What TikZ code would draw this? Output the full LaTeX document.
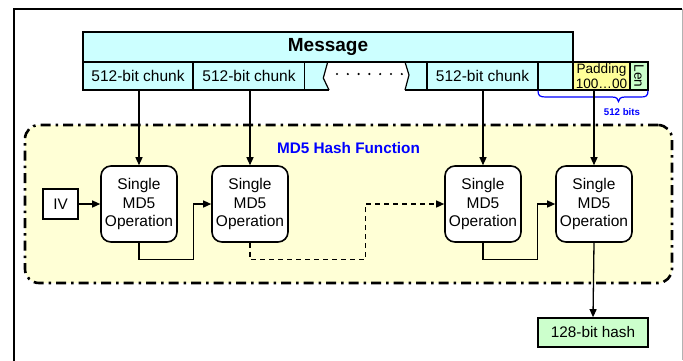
\documentclass[tikz,border=0pt]{standalone}
\usepackage{fontspec}
\setmainfont{Liberation Sans}
\usetikzlibrary{arrows.meta}
\definecolor{msgcyan}{RGB}{204,255,255}
\definecolor{padyellow}{RGB}{255,255,153}
\definecolor{lengreen}{RGB}{204,255,204}
\definecolor{hashbg}{RGB}{255,255,214}
\tikzset{
  cell/.style={draw, line width=1.6pt, fill=msgcyan, minimum height=28pt, inner sep=0pt, font=\fontsize{15.5}{18}\selectfont},
  opbox/.style={draw, line width=1.6pt, fill=white, rounded corners=10pt, minimum width=76pt, minimum height=76pt, inner sep=0pt, align=center, font=\fontsize{15.5}{18.5}\selectfont},
  link/.style={line width=1.3pt, -{Triangle[length=8pt,width=7pt]}},
}
\begin{document}
\begin{tikzpicture}[x=1pt, y=-1pt]
\useasboundingbox (0,0) rectangle (683,360);
\draw[line width=2.2pt] (14,362) -- (14,9) -- (682,9);
\draw[gray!60, line width=0.8pt] (682,9) -- (682,360);

\node[cell, minimum width=110pt] (c1) at (138,76) {512-bit chunk};
\node[cell, minimum width=112pt] (c2) at (249,76) {512-bit chunk};
\fill[msgcyan] (305,62) rectangle (427,90);
\fill[white] (327.7,62) -- (323.3,78) -- (329,90.8) -- (405,90.8) -- (409,75) -- (405,62) -- cycle;
\draw[line width=1.2pt] (327.7,62) -- (323.3,78) -- (329,90);
\draw[line width=1.2pt] (405,62) -- (409,75) -- (405,90);
\draw[line width=1.6pt] (305,90) -- (329,90) (405,90) -- (427,90);
\foreach \i in {0,...,6}
  \fill (337+\i*10.8,74) circle (1.2pt);
\node[cell, minimum width=111pt] (c3) at (482.5,76) {512-bit chunk};
\node[cell, minimum width=35pt] (c4) at (555.5,76) {};
\node[cell, fill=padyellow, minimum width=57pt, align=center, font=\fontsize{13.6}{15}\selectfont] (pad) at (601.5,76) {Padding\\100…00};
\node[cell, fill=lengreen, minimum width=28pt, minimum height=18pt, rotate=-90, font=\fontsize{13.6}{15}\selectfont] (len) at (639,76) {Len};
\node[cell, minimum width=490pt, minimum height=30pt, font=\bfseries\fontsize{19}{22}\selectfont] (msg) at (328,47) {Message};

\draw[blue, line width=1.2pt] (538,90.5) .. controls (538,96) and (540,97) .. (546,97) -- (612,97)
  .. controls (617,97) and (618,99) .. (618.5,101.5) .. controls (619,99) and (620,97) .. (625,97)
  -- (641,97) .. controls (646,97) and (648,96) .. (648,90.5);
\node[text=blue, font=\bfseries\fontsize{9.7}{11}\selectfont] (bits) at (622,112) {512 bits};

\node[draw, line width=2.6pt, dash pattern=on 10pt off 5pt on 2.5pt off 5pt, fill=hashbg, rounded corners=14pt, minimum width=647pt, minimum height=158pt] (md5fn) at (348.5,204) {};
\node[text=blue, font=\bfseries\fontsize{15.3}{18}\selectfont] (md5lbl) at (348.5,148) {MD5 Hash Function};

\node[draw, line width=1.6pt, fill=white, minimum width=35pt, minimum height=30pt, inner sep=0pt, font=\fontsize{15.3}{18}\selectfont] (iv) at (60.5,204) {IV};
\node[opbox] (op1) at (139,204) {Single\\MD5\\Operation};
\node[opbox] (op2) at (250,204) {Single\\MD5\\Operation};
\node[opbox] (op3) at (483,204) {Single\\MD5\\Operation};
\node[opbox] (op4) at (594,204) {Single\\MD5\\Operation};
\node[cell, fill=lengreen, minimum width=110pt, minimum height=29pt, font=\fontsize{15.3}{18}\selectfont] (hash) at (593,332.5) {128-bit hash};

\draw[link] (op1.north |- c1.south) -- (op1.north);
\draw[link] (op2.north |- c2.south) -- (op2.north);
\draw[link] (op3.north |- c3.south) -- (op3.north);
\draw[link] (op4.north |- pad.south) -- (op4.north);
\draw[link] (iv) -- (op1);
\draw[link] (op1.south) -- ++(0,17) -| ([xshift=-18pt]op2.west) -- (op2.west);
\draw[link, dash pattern=on 5pt off 4pt] (op2.south) -- ++(0,17) -| ([xshift=-79pt]op3.west) -- (op3.west);
\draw[link] (op3.south) -- ++(0,17) -| ([xshift=-18pt]op4.west) -- (op4.west);
\draw[link] (op4.south) -- (hash.north);
\end{tikzpicture}
\end{document}
